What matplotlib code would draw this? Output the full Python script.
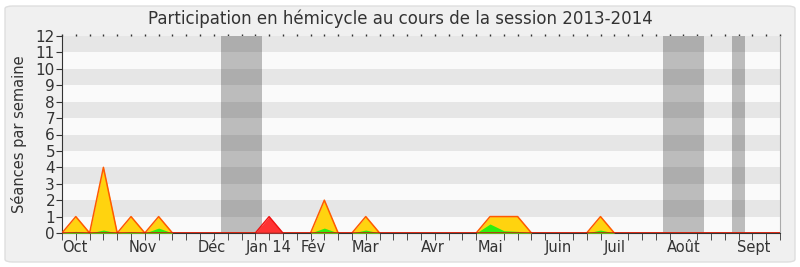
import matplotlib.pyplot as plt
from matplotlib.patches import FancyBboxPatch
import numpy as np

# semaines de la session (index 0 .. 52)
semaines = np.arange(53)

# presences (jaune), interventions (vert), autres seances (rouge)
presences = [0, 1, 0, 4, 0, 1, 0, 1, 0, 0, 0, 0, 0, 0, 0, 0, 0, 0, 0, 2,
             0, 0, 1, 0, 0, 0, 0, 0, 0, 0, 0, 1, 1, 1, 0, 0, 0, 0, 0, 1,
             0, 0, 0, 0, 0, 0, 0, 0, 0, 0, 0, 0, 0]
interventions = [0, 0.1, 0, 0.18, 0, 0.08, 0, 0.3, 0, 0, 0, 0, 0, 0, 0, 0, 0, 0, 0, 0.3,
                 0, 0, 0.18, 0, 0, 0, 0, 0, 0, 0, 0, 0.55, 0.14, 0.1, 0, 0, 0, 0, 0, 0.18,
                 0, 0, 0, 0, 0, 0, 0, 0, 0, 0, 0, 0, 0]
rouge = [0] * 15 + [1] + [0] * 37

# vacances parlementaires (debut, fin) en semaines
vacances = [(11.5, 14.5), (43.5, 46.5), (48.5, 49.5)]

# mois et positions des etiquettes
mois = ['Oct', 'Nov', 'Déc', 'Jan 14', 'Fév', 'Mar', 'Avr', 'Mai', 'Juin', 'Juil', 'Août', 'Sept']
pos_mois = [0.94, 5.87, 10.87, 14.93, 18.19, 21.96, 26.88, 31.0, 35.94, 40.0, 45.0, 50.07]

plt.rcParams['font.family'] = ['DejaVu Sans']

fig = plt.figure(figsize=(8, 2.67), dpi=100, facecolor='white')
fond = FancyBboxPatch((5 / 800, 5 / 267), 790 / 800, 256 / 267,
                      boxstyle='round,pad=0,rounding_size=0.01',
                      transform=fig.transFigure, facecolor='#f0f0f0',
                      edgecolor='#dedede', linewidth=1, zorder=-10)
fig.patches.append(fond)

ax = fig.add_axes([62 / 800, 34 / 267, 718 / 800, 197 / 267])
ax.set_zorder(5)
ax.set_facecolor('#fafafa')

for debut, fin in vacances:
    ax.axvspan(debut, fin, color='#bcbcbc', zorder=1, linewidth=0)

# bandes horizontales
for k in range(1, 12, 2):
    ax.axhspan(k, k + 1, color='black', alpha=0.08, zorder=2, linewidth=0)

ax.fill_between(semaines, presences, color='#ffd30f', zorder=3, linewidth=0)
ax.plot(semaines, presences, color='#ff5a00', linewidth=1.1, zorder=4)
ax.fill_between(semaines, interventions, color='#2fee0f', zorder=5, linewidth=0)
ax.fill_between(semaines, rouge, color='#ff3333', zorder=5, linewidth=0)
ax.plot(semaines, rouge, color='#ee1111', linewidth=1, zorder=6)
ax.axhline(0, color='#6a1a08', linewidth=1.0, zorder=7)

ax.set_xlim(0, 52)
ax.set_ylim(0, 12)
ax.set_yticks(range(13))
ax.tick_params(axis='y', labelsize=11, length=4, pad=1, colors='#333333')

ax.set_xticks(pos_mois)
ax.set_xticklabels(mois)
ax.set_xticks(semaines, minor=True)
ax.tick_params(axis='x', which='major', length=0, labelsize=10.5, pad=5, colors='#333333')
ax.tick_params(axis='x', which='minor', length=5, direction='out', color='#333333')
# petits points en haut
ax_haut = ax.secondary_xaxis('top')
ax_haut.set_xticks(semaines)
ax_haut.set_xticklabels([])
ax_haut.tick_params(length=1.5, width=1, color='#333333')
ax_haut.spines['top'].set_visible(False)

ax.spines['left'].set_color('#333333')
ax.spines['bottom'].set_color('#333333')
ax.spines['top'].set_visible(False)
ax.spines['right'].set_color('#aaaaaa')

ax.set_ylabel('Séances par semaine', fontsize=10.5, color='#333333', labelpad=6)
fig.text(0.5, 0.93, 'Participation en hémicycle au cours de la session 2013-2014',
         ha='center', va='center', fontsize=12, color='#333333')

fig.savefig('out.png', dpi=100, facecolor=fig.get_facecolor())
